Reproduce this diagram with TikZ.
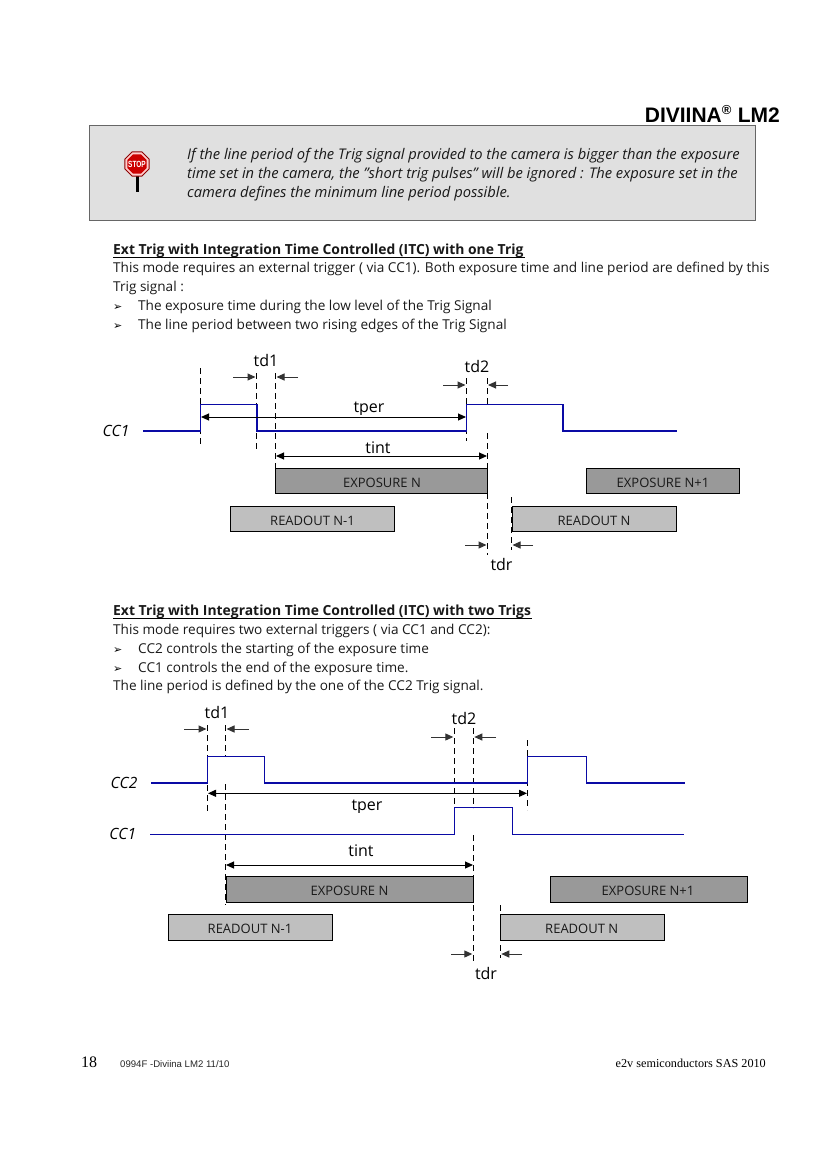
\documentclass[tikz,border=0pt]{standalone}
\usepackage{fontspec}
\setmainfont{Open Sans}
\newfontfamily\ftimes{Liberation Serif}
\newfontfamily\farial{Liberation Sans}
\newfontfamily\fdeja{DejaVu Sans}
\usetikzlibrary{arrows.meta,shapes.geometric}
\definecolor{sigblue}{RGB}{10,10,165}
\tikzset{
  x=1pt,y=-1pt,
  body/.style={anchor=base west,inner sep=0,font=\fontsize{13.6}{15}\selectfont,text=black!90},
  ital/.style={body,font=\fontsize{14.7}{16}\selectfont\itshape},
  head/.style={body,font=\fontsize{13.9}{15}\selectfont\bfseries},
  bul/.style={anchor=base west,inner sep=0,font=\fdeja\fontsize{11}{12}\selectfont},
  lab/.style={inner sep=0,font=\fontsize{16}{18}\selectfont},
  sig/.style={inner sep=0,font=\fontsize{15.5}{17}\selectfont\itshape},
  box/.style={inner sep=0,font=\fontsize{13}{15}\selectfont,text=black!90},
  expo/.style={draw=black,line width=.9pt,fill=black!40,outer sep=0},
  read/.style={draw=black,line width=.9pt,fill=black!25,outer sep=0},
  guide/.style={draw=black,line width=.8pt,dash pattern=on 6pt off 4pt},
  wave/.style={draw=sigblue,line width=1.3pt},
  span/.style={draw=black,line width=1pt,{Triangle[length=8pt,width=7pt]}-{Triangle[length=8pt,width=7pt]}},
  ptr/.style={draw=black!80,line width=1pt,-{Triangle[length=8pt,width=7pt]}},
}
\begin{document}
\begin{tikzpicture}
\useasboundingbox (0,0) rectangle (826,1169);
\fill[white] (0,0) rectangle (826,1169);

% header
\node[anchor=base east,inner sep=0,font=\farial\bfseries\fontsize{21}{23}\selectfont] (title) at (780,122.5) {DIVIINA\textsuperscript{\fontsize{13}{13}\selectfont ®} LM2};
\node[draw=black!60,line width=1pt,fill=black!12,minimum width=666pt,minimum height=95pt,anchor=north west,inner sep=0,outer sep=0] (note) at (89,125.5) {};
\node[ital] (n1) at (187,159.5) {If the line period of the Trig signal provided to the camera is bigger than the exposure};
\node[ital] (n2) at (187,178.5) {time set in the camera, the "short trig pulses" will be ignored : The exposure set in the};
\node[ital] (n3) at (187,197.5) {camera defines the minimum line period possible.};
% stop sign
\fill[black] (135.5,176) rectangle (138.5,192);
\node[regular polygon,regular polygon sides=8,draw=red!55!black,fill=red!20,line width=1pt,minimum size=26pt,inner sep=0] (stop) at (137,164) {};
\node[regular polygon,regular polygon sides=8,fill=red!80!black,minimum size=21pt,inner sep=0] (stopf) at (137,164) {};
\node[inner sep=0,font=\farial\bfseries\fontsize{9}{10}\selectfont,text=white,xscale=.72] (stopt) at (137,164) {STOP};

% section 1 text
\node[head] (h1) at (113,254) {Ext Trig with Integration Time Controlled (ITC) with one Trig};
\coordinate (u1a) at (113,257.5); \coordinate (u1b) at (525,257.5);
\draw[black,line width=.8pt] (u1a) -- (u1b);
\node[body] (a1) at (113,272.5) {This mode requires an external trigger ( via CC1). Both exposure time and line period are defined by this};
\node[body] (a2) at (113,291.5) {Trig signal :};
\node[bul] (b1) at (113,310) {➢};
\node[body] (a3) at (138,310.5) {The exposure time during the low level of the Trig Signal};
\node[bul] (b2) at (113,329) {➢};
\node[body] (a4) at (138,329.5) {The line period between two rising edges of the Trig Signal};

% diagram 1 guides
\coordinate (g1a) at (200.5,368); \coordinate (g1b) at (200.5,445);
\coordinate (g2a) at (256,373);   \coordinate (g2b) at (256,450);
\coordinate (g3a) at (275.5,373); \coordinate (g3b) at (275.5,468);
\coordinate (g4a) at (466.5,378); \coordinate (g4b) at (466.5,441);
\coordinate (g5a) at (487.5,378); \coordinate (g5b) at (487.5,404);
\coordinate (g5c) at (487.5,433); \coordinate (g5d) at (487.5,555);
\coordinate (g6a) at (511.5,497); \coordinate (g6b) at (511.5,550);
\draw[guide] (g1a)--(g1b); \draw[guide] (g2a)--(g2b); \draw[guide] (g3a)--(g3b);
\draw[guide] (g4a)--(g4b); \draw[guide] (g5a)--(g5b); \draw[guide] (g5c)--(g5d);
\draw[guide] (g6a)--(g6b);
% diagram 1 boxes
\node[expo,anchor=north west,minimum width=212pt,minimum height=25pt,inner sep=0] (e1) at (275.5,468) {};
\node[box] at (382,483) (e1t) {EXPOSURE N};
\node[expo,anchor=north west,minimum width=153.5pt,minimum height=25pt,inner sep=0] (e2) at (586,468) {};
\node[box] at (663,483) (e2t) {EXPOSURE N+1};
\node[read,anchor=north west,minimum width=164.5pt,minimum height=24.5pt,inner sep=0] (r1) at (230,506.8) {};
\node[box] at (312.5,521) (r1t) {READOUT N-1};
\node[read,anchor=north west,minimum width=164.5pt,minimum height=24.5pt,inner sep=0] (r2) at (512,506.8) {};
\node[box] at (594,521) (r2t) {READOUT N};
% diagram 1 signal
\node[sig] (cc1a) at (116,431) {CC1};
\coordinate (w0) at (143,431);
\draw[wave] (w0) -| (200.5,404.5) -| (257,431) -| (466.5,404.5) -| (563,431) -- (677,431);
% diagram 1 spans
\begin{scope}
\clip (340,395) rectangle (400,414);
\node[lab,anchor=base] (tper1) at (369,412.5) {tper};
\end{scope}
\coordinate (s1a) at (201,417); \coordinate (s1b) at (466,417);
\draw[span] (s1a) -- (s1b);
\node[lab] (tint1) at (378,448) {tint};
\coordinate (s2a) at (276,456); \coordinate (s2b) at (487,456);
\draw[span] (s2a) -- (s2b);
\node[lab] (td1a) at (266,360) {td1};
\coordinate (p1a) at (233,377); \coordinate (p1b) at (255.5,377);
\coordinate (p2a) at (298,377); \coordinate (p2b) at (276.5,377);
\draw[ptr] (p1a)--(p1b); \draw[ptr] (p2a)--(p2b);
\node[lab] (td2a) at (477,366) {td2};
\coordinate (p3a) at (443,385); \coordinate (p3b) at (465.5,385);
\coordinate (p4a) at (508,385); \coordinate (p4b) at (488,385);
\draw[ptr] (p3a)--(p3b); \draw[ptr] (p4a)--(p4b);
\node[lab] (tdr1) at (501.5,564) {tdr};
\coordinate (p5a) at (465,545); \coordinate (p5b) at (486.5,545);
\coordinate (p6a) at (533,545); \coordinate (p6b) at (512.5,545);
\draw[ptr] (p5a)--(p5b); \draw[ptr] (p6a)--(p6b);

% section 2 text
\node[head] (h2) at (113,615) {Ext Trig with Integration Time Controlled (ITC) with two Trigs};
\coordinate (u2a) at (113,618.5); \coordinate (u2b) at (532,618.5);
\draw[black,line width=.8pt] (u2a) -- (u2b);
\node[body] (c1) at (113,634.5) {This mode requires two external triggers ( via CC1 and CC2):};
\node[bul] (b3) at (113,653) {➢};
\node[body] (c2) at (138,653.5) {CC2 controls the starting of the exposure time};
\node[bul] (b4) at (113,672) {➢};
\node[body] (c3) at (138,672.5) {CC1 controls the end of the exposure time.};
\node[body] (c4) at (113,690.5) {The line period is defined by the one of the CC2 Trig signal.};

% diagram 2 guides
\coordinate (k1a) at (207.5,725); \coordinate (k1b) at (207.5,812);
\coordinate (k2a) at (225.5,725); \coordinate (k2b) at (225.5,757);
\coordinate (k2c) at (225.5,784); \coordinate (k2d) at (225.5,905);
\coordinate (k3a) at (454.3,728); \coordinate (k3b) at (454.3,808);
\coordinate (k4a) at (473.3,728); \coordinate (k4b) at (473.3,808);
\coordinate (k4c) at (473.3,835); \coordinate (k4d) at (473.3,962);
\coordinate (k5a) at (527.7,740); \coordinate (k5b) at (527.7,810);
\coordinate (k6a) at (500.3,905); \coordinate (k6b) at (500.3,958);
\draw[guide] (k1a)--(k1b); \draw[guide] (k2a)--(k2b); \draw[guide] (k2c)--(k2d);
\draw[guide] (k3a)--(k3b); \draw[guide] (k4a)--(k4b); \draw[guide] (k4c)--(k4d);
\draw[guide] (k5a)--(k5b); \draw[guide] (k6a)--(k6b);
% diagram 2 boxes
\node[expo,anchor=north west,minimum width=247.5pt,minimum height=25.6pt,inner sep=0] (e3) at (226,876.7) {};
\node[box] at (349.5,890.5) (e3t) {EXPOSURE N};
\node[expo,anchor=north west,minimum width=197.4pt,minimum height=25.6pt,inner sep=0] (e4) at (550.3,876.7) {};
\node[box] at (648,890.5) (e4t) {EXPOSURE N+1};
\node[read,anchor=north west,minimum width=164pt,minimum height=26pt,inner sep=0] (r3) at (168.3,914.3) {};
\node[box] at (250,929) (r3t) {READOUT N-1};
\node[read,anchor=north west,minimum width=164pt,minimum height=26pt,inner sep=0] (r4) at (500.5,914.3) {};
\node[box] at (581.7,929) (r4t) {READOUT N};
% diagram 2 signals
\node[sig] (cc2b) at (124,783) {CC2};
\node[sig] (cc1b) at (122.7,834) {CC1};
\coordinate (w1) at (151,783); \coordinate (w2) at (150,834.3);
\draw[wave] (w1) -| (207.5,756.5) -| (264.7,783) -| (527.7,756.5) -| (586.3,783) -- (684.7,783);
\draw[wave] (w2) -| (454.3,807.7) -| (512.3,834.3) -- (684,834.3);
% diagram 2 spans
\begin{scope}
\clip (340,795) rectangle (395,812);
\node[lab,anchor=base] (tper2) at (367,810.5) {tper};
\end{scope}
\coordinate (s3a) at (208,793.3); \coordinate (s3b) at (527,793.3);
\draw[span] (s3a) -- (s3b);
\node[lab] (tint2) at (361,851) {tint};
\coordinate (s4a) at (226,865); \coordinate (s4b) at (473,865);
\draw[span] (s4a) -- (s4b);
\node[lab] (td1b) at (217,712) {td1};
\coordinate (q1a) at (184,729); \coordinate (q1b) at (206.5,729);
\coordinate (q2a) at (249,729); \coordinate (q2b) at (226.5,729);
\draw[ptr] (q1a)--(q1b); \draw[ptr] (q2a)--(q2b);
\node[lab] (td2b) at (464,718) {td2};
\coordinate (q3a) at (431,737); \coordinate (q3b) at (453.3,737);
\coordinate (q4a) at (496,737); \coordinate (q4b) at (474.3,737);
\draw[ptr] (q3a)--(q3b); \draw[ptr] (q4a)--(q4b);
\node[lab] (tdr2) at (486,973) {tdr};
\coordinate (q5a) at (451,954); \coordinate (q5b) at (472.3,954);
\coordinate (q6a) at (522,954); \coordinate (q6b) at (501.3,954);
\draw[ptr] (q5a)--(q5b); \draw[ptr] (q6a)--(q6b);

% footer
\node[anchor=base west,inner sep=0,font=\ftimes\fontsize{16}{18}\selectfont] (pg) at (81,1067) {18};
\node[anchor=base west,inner sep=0,font=\farial\fontsize{9.6}{11}\selectfont,text=black!85] (doc) at (120,1067.5) {0994F -Diviina LM2 11/10};
\node[anchor=base east,inner sep=0,font=\ftimes\fontsize{12.2}{14}\selectfont] (corp) at (766,1067) {e2v semiconductors SAS 2010};
\end{tikzpicture}
\end{document}
